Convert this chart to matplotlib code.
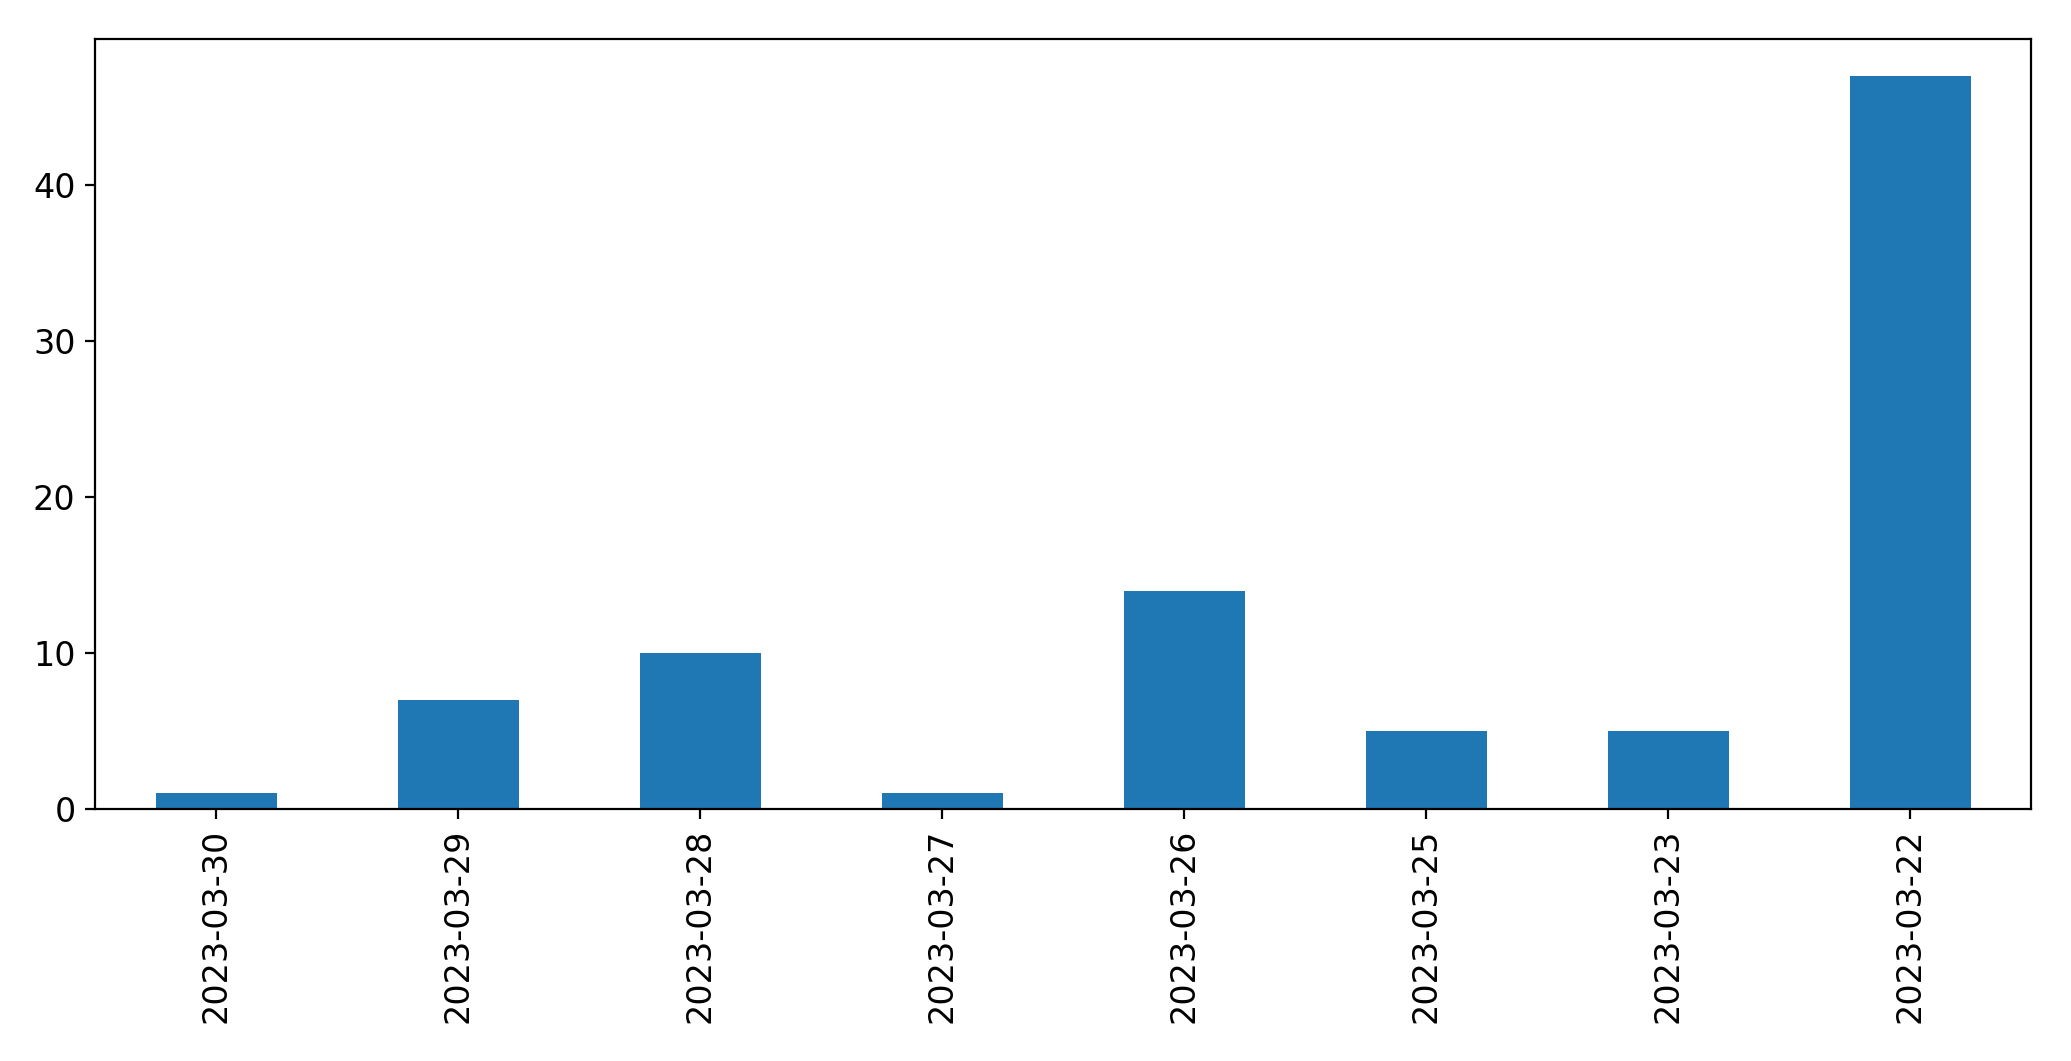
import matplotlib
matplotlib.use("Agg")
import matplotlib.pyplot as plt

dates = ["2023-03-30", "2023-03-29", "2023-03-28", "2023-03-27",
         "2023-03-26", "2023-03-25", "2023-03-23", "2023-03-22"]
counts = [1, 7, 10, 1, 14, 5, 5, 47]

fig = plt.figure(figsize=(2071 / 200, 1061 / 200), dpi=200)
ax = fig.add_axes([95 / 2071, 1 - 809 / 1061, (2031 - 95) / 2071, (809 - 39) / 1061])
x = list(range(len(dates)))
ax.bar(x, counts, width=0.5, color="#1f77b4")
ax.set_xlim(-0.5, len(dates) - 0.5)
ax.set_xticks(x)
ax.set_xticklabels(dates, rotation=90, fontsize=12)
ax.tick_params(axis="y", labelsize=12)
ax.set_yticks([0, 10, 20, 30, 40])
fig.savefig("out.png", dpi=200)
